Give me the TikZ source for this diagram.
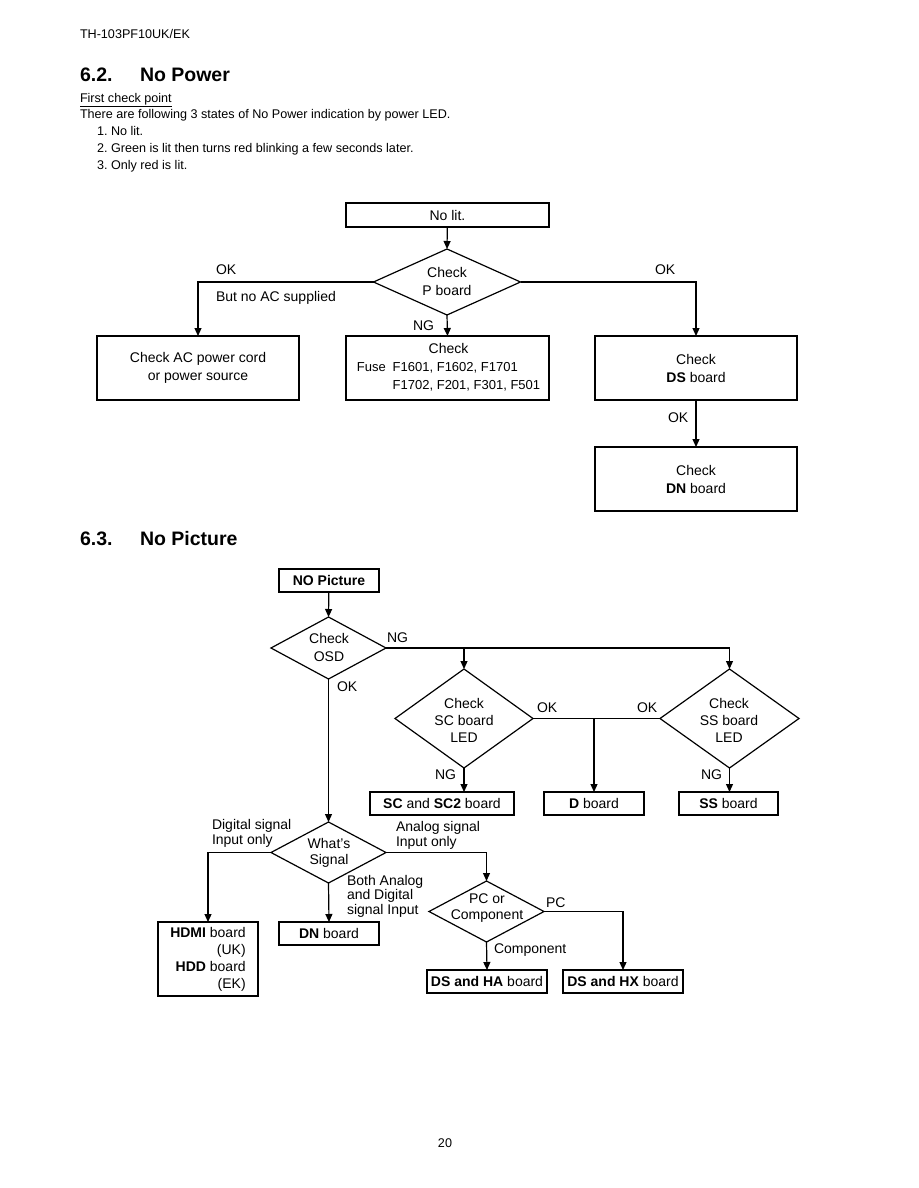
\documentclass[tikz,border=0pt]{standalone}
\usepackage{fontspec}
\setmainfont{Liberation Sans}
\usetikzlibrary{shapes.geometric,arrows.meta}

\begin{document}
\begin{tikzpicture}[x=1pt,y=-1pt,
  every node/.style={inner sep=0pt, outer sep=0pt},
  fc/.style={font=\fontsize{14}{18}\selectfont},
  box/.style={draw, line width=1.2pt, fc, align=center},
  dia/.style={draw, diamond, line width=1.2pt, inner sep=0pt},
  dtext/.style={fc, align=center},
  lab/.style={font=\fontsize{14}{14.5}\selectfont, anchor=west, align=left},
  body/.style={font=\fontsize{12.6}{15}\selectfont, anchor=base west},
  head/.style={font=\fontsize{19.5}{22}\selectfont\bfseries, anchor=base west},
  arr/.style={line width=1.2pt, -{Triangle[length=8pt,width=7pt]}},
  ln/.style={line width=1.2pt}
]
\fill[white] (0,0) rectangle (918,1188);
\useasboundingbox (0,0) rectangle (918,1188);

% ---------- page text ----------
\node[body] (hdr) at (80,38.5) {TH-103PF10UK/EK};
\node[head] (h62n) at (80,82) {6.2.};
\node[head] (h62t) at (140,82) {No Power};
\node[body] (fcp) at (80,102.5) {\underline{First check point}};
\node[body] (intro) at (80,118.5) {There are following 3 states of No Power indication by power LED.};
\node[body] (i1n) at (97,135.5) {1.};
\node[body] (i1) at (111,135.5) {No lit.};
\node[body] (i2n) at (97,152.5) {2.};
\node[body] (i2) at (111,152.5) {Green is lit then turns red blinking a few seconds later.};
\node[body] (i3n) at (97,169.5) {3.};
\node[body] (i3) at (111,169.5) {Only red is lit.};
\node[head] (h63n) at (80,545) {6.3.};
\node[head] (h63t) at (140,545) {No Picture};
\node[body, anchor=base] (pg) at (445,1147.5) {20};

% ---------- chart 1 ----------
\node[box, minimum width=203pt, minimum height=24pt] (nolit) at (447.5,215) {No lit.};
\node[dia, minimum width=147pt, minimum height=66pt] (pb) at (447,282) {};
\node[dtext] (pbt) at (447,281) {Check\\P board};
\node[box, minimum width=202pt, minimum height=64pt] (ac) at (198,368) {Check AC power cord\\or power source};
\node[box, minimum width=203pt, minimum height=64pt] (fuse) at (447.5,368) {};
\node[fc] (fuset) at (448.5,368)
  {\begin{tabular}{@{}l@{\hspace{7pt}}l@{}}\multicolumn{2}{c}{\fontsize{14}{18}\selectfont Check}\\\fontsize{13}{18}\selectfont Fuse & \fontsize{13}{18}\selectfont F1601, F1602, F1701\\ & \fontsize{13}{18}\selectfont F1702, F201, F301, F501\end{tabular}};
\node[box, minimum width=202pt, minimum height=64pt] (ds) at (696,368) {Check\\\textbf{DS} board};
\node[box, minimum width=202pt, minimum height=64pt] (dn) at (696,479) {Check\\\textbf{DN} board};

\draw[arr] (nolit) -- (pb.north);
\draw[arr] (pb.west) -| (ac.north);
\draw[arr] (pb.east) -| (ds.north);
\draw[arr] (pb.south) -- (fuse.north);
\draw[arr] (ds) -- (dn);

\node[lab] (l1) at (216,270) {OK};
\node[lab] (l2) at (216,298) {But no AC supplied};
\node[lab] (l3) at (655,270) {OK};
\node[lab] (l4) at (413,326) {NG};
\node[lab] (l5) at (668,418) {OK};

% ---------- chart 2 ----------
\node[box, minimum width=100pt, minimum height=23pt] (nopic) at (329,580.5) {\textbf{NO Picture}};
\node[dia, minimum width=115pt, minimum height=62pt] (osd) at (328.5,648) {};
\node[dtext] (osdt) at (329,647.5) {Check\\OSD};
\node[dia, minimum width=138pt, minimum height=99pt] (sc) at (464,718.5) {};
\node[dtext, font=\fontsize{14}{17}\selectfont] (sct) at (464,720) {Check\\SC board\\LED};
\node[dia, minimum width=139pt, minimum height=99pt] (ss) at (729.5,718.5) {};
\node[dtext, font=\fontsize{14}{17}\selectfont] (sst) at (729,720) {Check\\SS board\\LED};
\node[box, minimum width=144pt, minimum height=23pt] (scb) at (442,803.5) {\textbf{SC} and \textbf{SC2} board};
\node[box, minimum width=100pt, minimum height=23pt] (db) at (594,803.5) {\textbf{D} board};
\node[box, minimum width=99pt, minimum height=23pt] (ssb) at (728.5,803.5) {\textbf{SS} board};
\node[dia, minimum width=115pt, minimum height=61pt] (ws) at (328.5,852.5) {};
\node[dtext, font=\fontsize{14}{16}\selectfont] (wst) at (329,853) {What's\\Signal};
\node[dia, minimum width=115pt, minimum height=61pt] (pc) at (486.5,911.5) {};
\node[dtext, font=\fontsize{14}{16}\selectfont] (pct) at (487,908) {PC or\\Component};
\node[box, align=right, font=\fontsize{14}{17}\selectfont, minimum width=100pt, minimum height=74pt] (hdmi) at (208,959)
  {\textbf{HDMI} board\\(UK)\\\textbf{HDD} board\\(EK)};
\node[box, minimum width=100pt, minimum height=23pt] (dn2) at (329,933.5) {\textbf{DN} board};
\node[box, minimum width=120pt, minimum height=23pt] (ha) at (487,981.5) {\textbf{DS and HA} board};
\node[box, minimum width=120pt, minimum height=23pt] (hx) at (623,981.5) {\textbf{DS and HX} board};

\coordinate (b1) at (sc.north |- osd.east);
\coordinate (b2) at (db.north |- sc.east);

\draw[arr] (nopic) -- (osd.north);
\draw[arr] (osd.east) -| (ss.north);
\draw[arr] (b1) -- (sc.north);
\draw[arr] (osd.south) -- (ws.north);
\draw[ln] (sc.east) -- (ss.west);
\draw[arr] (b2) -- (db.north);
\draw[arr] (sc.south) -- (sc.south |- scb.north);
\draw[arr] (ss.south) -- (ss.south |- ssb.north);
\draw[arr] (ws.west) -| (hdmi.north);
\draw[arr] (ws.east) -| (pc.north);
\draw[arr] (ws.south) -- (dn2.north);
\draw[arr] (pc.east) -| (hx.north);
\draw[arr] (pc.south) -- (ha.north);

\node[lab] (m1) at (387,638) {NG};
\node[lab] (m2) at (337,687) {OK};
\node[lab] (m3) at (537,708) {OK};
\node[lab] (m4) at (637,708) {OK};
\node[lab] (m5) at (435,775) {NG};
\node[lab] (m6) at (701,775) {NG};
\node[lab] (m7) at (212,833.5) {Digital signal\\Input only};
\node[lab] (m8) at (396,835.5) {Analog signal\\Input only};
\node[lab] (m9) at (347,896) {Both Analog\\and Digital\\signal Input};
\node[lab] (m10) at (546,903) {PC};
\node[lab] (m11) at (494,950) {Component};
\end{tikzpicture}
\end{document}
